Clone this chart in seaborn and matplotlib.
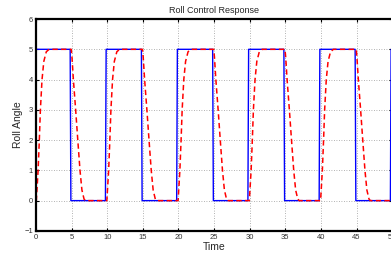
import pandas as pd
import seaborn as sns
from matplotlib import pyplot as plt

# commanded roll angle (square wave), breakpoints
cmd_time = [0, 4.8, 4.9, 9.75, 9.85, 14.8, 14.9, 19.75, 19.85, 24.8, 24.9,
            29.75, 29.85, 34.8, 34.9, 39.75, 39.85, 44.8, 44.9, 49.75, 49.85, 50]
cmd_angle = [5, 5, 0, 0, 5, 5, 0, 0, 5, 5, 0,
             0, 5, 5, 0, 0, 5, 5, 0, 0, 5, 5]

# actual roll angle (dashed response)
resp_time = [
    0.0, 0.05, 0.3, 0.47, 0.62, 0.85, 1.1, 1.45, 1.85,
    4.95, 5.05, 5.25, 5.57, 5.87, 6.18, 6.45, 6.75, 6.95,
    9.95, 10.2, 10.37, 10.52, 10.75, 11.0, 11.35, 11.75,
    14.95, 15.05, 15.25, 15.57, 15.87, 16.18, 16.45, 16.75, 16.95,
    19.95, 20.2, 20.37, 20.52, 20.75, 21.0, 21.35, 21.75,
    24.95, 25.05, 25.25, 25.57, 25.87, 26.18, 26.45, 26.75, 26.95,
    29.95, 30.2, 30.37, 30.52, 30.75, 31.0, 31.35, 31.75,
    34.95, 35.05, 35.25, 35.57, 35.87, 36.18, 36.45, 36.75, 36.95,
    39.95, 40.2, 40.37, 40.52, 40.75, 41.0, 41.35, 41.75,
    44.95, 45.05, 45.25, 45.57, 45.87, 46.18, 46.45, 46.75, 46.95,
    50.0,
]
resp_angle = [
    0, 0, 1, 2, 3, 4, 4.6, 4.92, 5,
    5, 4.75, 4, 3, 2, 1, 0.35, 0.05, 0,
    0, 1, 2, 3, 4, 4.6, 4.92, 5,
    5, 4.75, 4, 3, 2, 1, 0.35, 0.05, 0,
    0, 1, 2, 3, 4, 4.6, 4.92, 5,
    5, 4.75, 4, 3, 2, 1, 0.35, 0.05, 0,
    0, 1, 2, 3, 4, 4.6, 4.92, 5,
    5, 4.75, 4, 3, 2, 1, 0.35, 0.05, 0,
    0, 1, 2, 3, 4, 4.6, 4.92, 5,
    5, 4.75, 4, 3, 2, 1, 0.35, 0.05, 0,
    0,
]

x_ticks = list(range(0, 51, 5))
y_ticks = list(range(-1, 7))

cmd_df = pd.DataFrame({'Time': cmd_time, 'Roll Angle': cmd_angle})
resp_df = pd.DataFrame({'Time': resp_time, 'Roll Angle': resp_angle})

sns.set_style('ticks')
plt.rcParams['font.family'] = ['Liberation Sans', 'DejaVu Sans']

fig = plt.figure(figsize=(3.91, 2.54), dpi=100)
ax = fig.add_axes([0.092, 0.091, 0.911, 0.834])

sns.lineplot(data=cmd_df, x='Time', y='Roll Angle', ax=ax, color='#0000ff',
             lw=1.0, estimator=None, sort=False)
sns.lineplot(data=resp_df, x='Time', y='Roll Angle', ax=ax, color='#ff0000',
             lw=1.1, estimator=None, sort=False, linestyle=(0, (3.5, 2.2)))

ax.set_xlim(0, 50)
ax.set_ylim(-1, 6)
ax.set_xticks(x_ticks)
ax.set_yticks(y_ticks)
ax.grid(True, linestyle=(0, (1, 2)), color='0.6', lw=0.6)
ax.set_axisbelow(True)

for s in ax.spines.values():
    s.set_linewidth(1.6)
    s.set_color('black')
ax.tick_params(direction='in', length=2.5, width=0.8, labelsize=5.5, pad=2,
               top=True, right=True, colors='black')
ax.tick_params(labelcolor='#333333')

ax.set_title('Roll Control Response', fontsize=6.5, pad=4)
ax.set_xlabel('Time', fontsize=7.5, labelpad=1)
ax.set_ylabel('Roll Angle', fontsize=7.5, labelpad=1)

fig.savefig('out.png', dpi=100)
